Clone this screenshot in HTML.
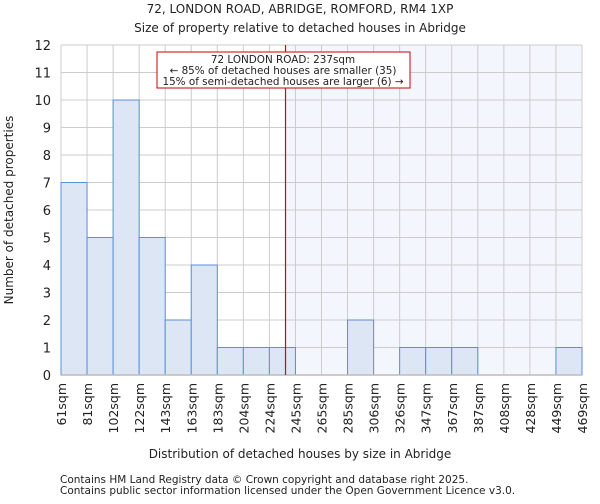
<!DOCTYPE html>
<html><head><meta charset="utf-8"><style>
body{margin:0;background:#fff;font-family:"DejaVu Sans","Liberation Sans",sans-serif;}
svg text{font-family:"DejaVu Sans","Liberation Sans",sans-serif;fill:#222;}
</style></head><body>
<svg id="chart" width="600" height="500">
<text x="300" y="13" text-anchor="middle" font-size="12">72, LONDON ROAD, ABRIDGE, ROMFORD, RM4 1XP</text>
<text x="300" y="32" text-anchor="middle" font-size="12">Size of property relative to detached houses in Abridge</text>
<g id="plot"></g>
<text x="300" y="458" text-anchor="middle" font-size="12">Distribution of detached houses by size in Abridge</text>
<text transform="translate(13,210) rotate(-90)" text-anchor="middle" font-size="12">Number of detached properties</text>
<text x="60" y="483" font-size="10.5">Contains HM Land Registry data © Crown copyright and database right 2025.</text>
<text x="60" y="494" font-size="10.5">Contains public sector information licensed under the Open Government Licence v3.0.</text>
</svg>
<script>
const binLabels=["61sqm","81sqm","102sqm","122sqm","143sqm","163sqm","183sqm","204sqm","224sqm","245sqm","265sqm","285sqm","306sqm","326sqm","347sqm","367sqm","387sqm","408sqm","428sqm","449sqm","469sqm"];
const binEdges=[61,81,102,122,143,163,183,204,224,245,265,285,306,326,347,367,387,408,428,449,469];
const counts=[7,5,10,5,2,4,1,1,1,0,0,2,0,1,1,1,0,0,0,1];
const yTicks=[0,1,2,3,4,5,6,7,8,9,10,11,12];
const propertySize=237;
const L=61,R=582,T=45,B=375,yMax=12;
const ns="http://www.w3.org/2000/svg";
const g=document.getElementById('plot');
const n=counts.length,bw=(R-L)/n;
const xi=i=>L+i*bw;
const y=v=>B-(v/yMax)*(B-T);
function xs(v){for(let i=0;i<n;i++){if(v<=binEdges[i+1])return xi(i)+bw*(v-binEdges[i])/(binEdges[i+1]-binEdges[i]);}return R;}
function mk(t,a){const e=document.createElementNS(ns,t);for(const k in a)e.setAttribute(k,a[k]);g.appendChild(e);return e;}
const px=xs(propertySize);
let e=mk('rect',{x:px,y:T,width:R-px,height:B-T,fill:'#f3f6fd'});


yTicks.forEach(t=>{
 let l=mk('line',{x1:L,x2:R,y1:y(t),y2:y(t),stroke:'#ccc','stroke-width':1});
 
 
 let tx=mk('text',{x:L-10,y:y(t)+5,'text-anchor':'end','font-size':13});
 tx.textContent=t;
 
 
});
for(let i=0;i<=n;i++){
 let l=mk('line',{x1:xi(i),x2:xi(i),y1:T,y2:B,stroke:'#ccc','stroke-width':1});
 
 
 let tx=mk('text',{transform:`translate(${xi(i)+5},${B+8}) rotate(-90)`,'text-anchor':'end','font-size':12.5});
 tx.textContent=binLabels[i];
 
 
}
counts.forEach((c,i)=>{
 if(c<=0)return;
 let r=mk('rect',{x:xi(i),y:y(c),width:bw,height:B-y(c),fill:'#dce6f4',stroke:'#5b8fd6','stroke-width':1});
 
 
});
e=mk('line',{x1:L,x2:R,y1:B,y2:B,stroke:'#bbb','stroke-width':1.5});


e=mk('line',{x1:px,x2:px,y1:T,y2:B,stroke:'#dd0000','stroke-width':1.2});


e=mk('rect',{x:157,y:52,width:253,height:36,fill:'#fff',stroke:'#cc0000','stroke-width':1});


["72 LONDON ROAD: 237sqm","← 85% of detached houses are smaller (35)","15% of semi-detached houses are larger (6) →"].forEach((s,k)=>{
 let tx=mk('text',{x:283,y:63+k*11,'text-anchor':'middle','font-size':10.4});
 tx.textContent=s;
 
 
});
</script>
</body></html>
